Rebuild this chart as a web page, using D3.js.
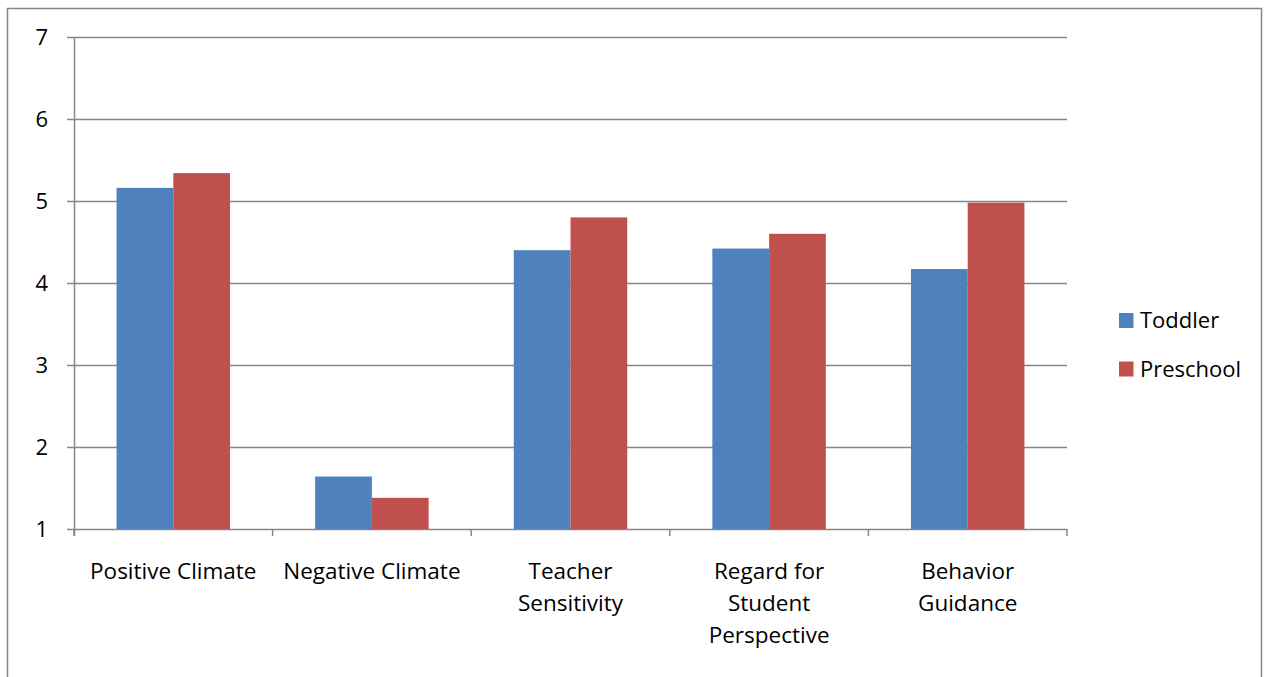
<!DOCTYPE html>
<html>
<head>
<meta charset="utf-8">
<script src="https://cdn.jsdelivr.net/npm/d3@7"></script>
<style>
  body { margin: 0; background: #fff; }
  svg { font-family: "Open Sans", "Noto Sans", sans-serif; }
</style>
</head>
<body>
<div class="chartHolder"></div>
<script>
const categories = [
  ['Positive Climate'],
  ['Negative Climate'],
  ['Teacher', 'Sensitivity'],
  ['Regard for', 'Student', 'Perspective'],
  ['Behavior', 'Guidance']
]
const seriesNames = ['Toddler', 'Preschool']
const toddler = [5.16, 1.64, 4.40, 4.42, 4.17]
const preschool = [5.34, 1.38, 4.80, 4.60, 4.98]
const yTicks = [1, 2, 3, 4, 5, 6, 7]
const colors = ['#4f81bd', '#c0504d']

const W = 1269, H = 677
const margin = { top: 37, left: 74, right: 202, bottom: 148 }
const width = W - margin.left - margin.right
const height = H - margin.top - margin.bottom

var svg = d3.select('.chartHolder').append('svg')
  .attr('width', W)
  .attr('height', H)

// outer chart border
svg.append('rect')
  .attr('x', 7.5).attr('y', 8.5)
  .attr('width', 1254).attr('height', 700)
  .attr('fill', 'none')
  .attr('stroke', '#868686')
  .attr('stroke-width', 1.5)

var graph = svg.append('g')
  .attr('transform', `translate(${margin.left},${margin.top})`)

var xScale = d3.scaleBand()
  .domain(d3.range(categories.length))
  .range([0, width])
var yScale = d3.scaleLinear()
  .domain([1, 7])
  .range([height, 0])
// Excel gap width 150%
var barWidth = xScale.bandwidth() / 3.5
var groupOffset = (xScale.bandwidth() - 2 * barWidth) / 2

// gridlines
graph.append('g')
  .selectAll('line')
  .data(yTicks)
  .enter().append('line')
  .attr('x1', -7).attr('x2', width)
  .attr('y1', d => Math.round(yScale(d)) + 0.5)
  .attr('y2', d => Math.round(yScale(d)) + 0.5)
  .attr('stroke', '#868686')
  .attr('stroke-width', 1.5)

// y labels
graph.append('g')
  .selectAll('text')
  .data(yTicks)
  .enter().append('text')
  .attr('x', -26)
  .attr('y', d => yScale(d) + 8)
  .attr('text-anchor', 'end')
  .style('font-size', '22px')
  .text(d => d)

// bars
var allSeries = [toddler, preschool]
allSeries.forEach(function(vals, s) {
  graph.append('g')
    .selectAll('rect')
    .data(vals)
    .enter().append('rect')
    .attr('x', (d, i) => xScale(i) + groupOffset + s * barWidth)
    .attr('y', d => yScale(d))
    .attr('width', barWidth)
    .attr('height', d => yScale(1) - yScale(d))
    .attr('fill', colors[s])
})

// y axis line
graph.append('line')
  .attr('x1', 0.5).attr('x2', 0.5)
  .attr('y1', 0).attr('y2', height + 7)
  .attr('stroke', '#868686')
  .attr('stroke-width', 1.5)

// x ticks between categories
graph.append('g')
  .selectAll('line')
  .data(d3.range(categories.length + 1))
  .enter().append('line')
  .attr('x1', d => d * xScale.step())
  .attr('x2', d => d * xScale.step())
  .attr('y1', height).attr('y2', height + 7)
  .attr('stroke', '#868686')
  .attr('stroke-width', 1.5)

// x labels
categories.forEach(function(lines, i) {
  var t = graph.append('text')
    .attr('text-anchor', 'middle')
    .style('font-size', '22.5px')
  lines.forEach(function(line, j) {
    t.append('tspan')
      .attr('x', xScale(i) + xScale.bandwidth() / 2)
      .attr('y', height + 50 + j * 32)
      .text(line)
  })
})

// legend
var legend = svg.append('g')
  .attr('transform', 'translate(1119,313)')
seriesNames.forEach(function(name, i) {
  legend.append('rect')
    .attr('x', 0).attr('y', i * 48.5)
    .attr('width', 14.5).attr('height', 15)
    .attr('fill', colors[i])
  legend.append('text')
    .attr('x', 21).attr('y', i * 48.5 + 15)
    .style('font-size', '22px')
    .text(name)
})
</script>
</body>
</html>
